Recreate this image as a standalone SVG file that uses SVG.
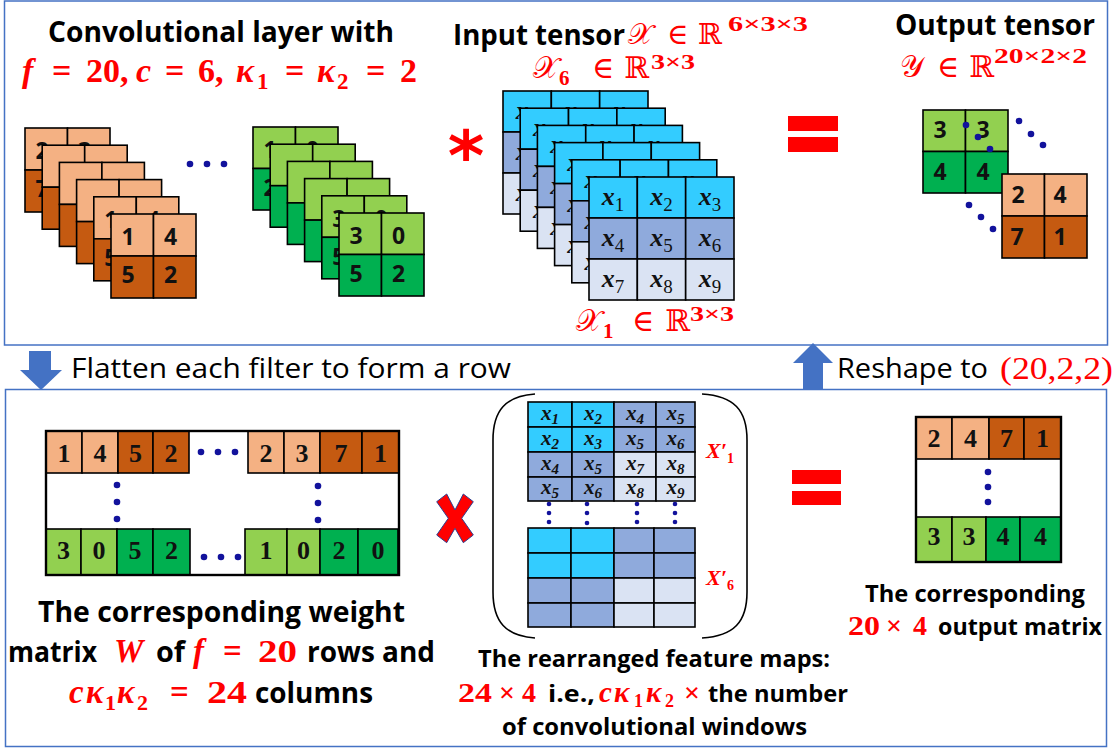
<svg xmlns="http://www.w3.org/2000/svg" width="1116" height="756" viewBox="0 0 1116 756">
<style>
.panel{fill:none;stroke:#4472C4;stroke-width:1.5}
.c{stroke:#000;stroke-width:1.6}
.lo{fill:#F4B183}.do{fill:#C55A11}.lg{fill:#92D050}.dg{fill:#00B050}
.cy{fill:#33CCFF}.mb{fill:#8FAADC}.lb{fill:#DAE3F3}
.bk{font-family:"Open Sans","Noto Sans",sans-serif;font-weight:700;fill:#000}
.rg{font-family:"Open Sans","Noto Sans",sans-serif;font-weight:400;fill:#000}
.m{font-family:"Liberation Serif","DejaVu Serif",serif;font-weight:700;fill:#FF0000}
.sc{font-family:"DejaVu Serif","DejaVu Sans",serif;font-weight:400;fill:#FF0000}
.it{font-style:italic}
.fd{font-family:"Open Sans","Noto Sans",sans-serif;font-weight:700;font-size:23px;fill:#111;text-anchor:middle}
.sd{font-family:"Liberation Serif",serif;font-weight:700;font-size:26px;fill:#111;text-anchor:middle}
.xl{font-family:"Liberation Serif",serif;font-weight:700;font-style:italic;font-size:26px;fill:#111;text-anchor:middle}
.xs{font-family:"Liberation Serif",serif;font-weight:700;font-style:italic;font-size:21px;fill:#111;text-anchor:middle}
.dot{fill:#12129C}
.eq{fill:#FF0000}
.arr{fill:#4472C4}
</style>
<defs>
<g id="fo">
<rect class="c lo" x="0" y="0" width="42.5" height="42"/><rect class="c lo" x="42.5" y="0" width="42.5" height="42"/>
<rect class="c do" x="0" y="42" width="42.5" height="42"/><rect class="c do" x="42.5" y="42" width="42.5" height="42"/>
</g>
<g id="fgr">
<rect class="c lg" x="0" y="0" width="42.5" height="41.5"/><rect class="c lg" x="42.5" y="0" width="42.5" height="41.5"/>
<rect class="c dg" x="0" y="41.5" width="42.5" height="41.5"/><rect class="c dg" x="42.5" y="41.5" width="42.5" height="41.5"/>
</g>
<g id="tl">
<rect class="c cy" x="0" y="0" width="48.33" height="41"/><rect class="c cy" x="48.33" y="0" width="48.33" height="41"/><rect class="c cy" x="96.67" y="0" width="48.33" height="41"/>
<rect class="c mb" x="0" y="41" width="48.33" height="41"/><rect class="c mb" x="48.33" y="41" width="48.33" height="41"/><rect class="c mb" x="96.67" y="41" width="48.33" height="41"/>
<rect class="c lb" x="0" y="82" width="48.33" height="41"/><rect class="c lb" x="48.33" y="82" width="48.33" height="41"/><rect class="c lb" x="96.67" y="82" width="48.33" height="41"/>
<text class="xl" x="24" y="28">x<tspan dy="6" font-size="19" font-weight="400" font-style="normal">1</tspan></text>
<text class="xl" x="72.5" y="28">x<tspan dy="6" font-size="19" font-weight="400" font-style="normal">2</tspan></text>
<text class="xl" x="121" y="28">x<tspan dy="6" font-size="19" font-weight="400" font-style="normal">3</tspan></text>
<text class="xl" x="24" y="69">x<tspan dy="6" font-size="19" font-weight="400" font-style="normal">4</tspan></text>
<text class="xl" x="72.5" y="69">x<tspan dy="6" font-size="19" font-weight="400" font-style="normal">5</tspan></text>
<text class="xl" x="121" y="69">x<tspan dy="6" font-size="19" font-weight="400" font-style="normal">6</tspan></text>
<text class="xl" x="24" y="110">x<tspan dy="6" font-size="19" font-weight="400" font-style="normal">7</tspan></text>
<text class="xl" x="72.5" y="110">x<tspan dy="6" font-size="19" font-weight="400" font-style="normal">8</tspan></text>
<text class="xl" x="121" y="110">x<tspan dy="6" font-size="19" font-weight="400" font-style="normal">9</tspan></text>
</g>
</defs>

<rect class="panel" x="4.5" y="1" width="1103" height="344"/>
<rect class="panel" x="5.5" y="389.5" width="1101" height="357"/>

<g id="arrows">
<polygon class="arr" points="29,351 51,351 51,370 62,370 41,390 20,370 29,370"/>
<polygon class="arr" points="813,343 833,363 823,363 823,390 803,390 803,363 793,363"/>
</g>

<g id="title-left">
<text class="bk" x="48" y="42" font-size="29" textLength="346" lengthAdjust="spacingAndGlyphs">Convolutional layer with</text>
<text class="m" font-size="34"><tspan x="22" y="82" class="it">f</tspan><tspan x="52">=</tspan><tspan x="86">20,</tspan><tspan x="136" class="it">c</tspan><tspan x="165">=</tspan><tspan x="198">6,</tspan><tspan x="236" class="it">κ</tspan><tspan x="257" y="89" font-size="23">1</tspan><tspan x="285" y="82">=</tspan><tspan x="317" class="it">κ</tspan><tspan x="337" y="89" font-size="23">2</tspan><tspan x="366" y="82">=</tspan><tspan x="400">2</tspan></text>
</g>

<g id="filters-orange">
<use href="#fo" x="25" y="128"/>
<text class="fd" x="42" y="159">2</text><text class="fd" x="84.5" y="159">3</text><text class="fd" x="42" y="197">7</text><text class="fd" x="84.5" y="197">1</text>
<use href="#fo" x="42.2" y="145.2"/>
<use href="#fo" x="59.4" y="162.4"/>
<use href="#fo" x="76.6" y="179.6"/>
<use href="#fo" x="93.8" y="196.8"/>
<text class="fd" x="110.8" y="227.8">1</text><text class="fd" x="153.3" y="227.8">4</text><text class="fd" x="110.8" y="265.8">5</text><text class="fd" x="153.3" y="265.8">2</text>
<use href="#fo" x="111" y="214"/>
<text class="fd" x="128" y="245">1</text><text class="fd" x="170.5" y="245">4</text><text class="fd" x="128" y="283">5</text><text class="fd" x="170.5" y="283">2</text>
</g>

<g id="dots-top">
<circle class="dot" cx="190" cy="164" r="3.3"/><circle class="dot" cx="207" cy="164" r="3.3"/><circle class="dot" cx="224" cy="164" r="3.3"/>
</g>

<g id="filters-green">
<use href="#fgr" x="253" y="127"/>
<text class="fd" x="270" y="158">1</text><text class="fd" x="312.5" y="158">0</text><text class="fd" x="270" y="196">2</text><text class="fd" x="312.5" y="196">0</text>
<use href="#fgr" x="270.2" y="144.2"/>
<use href="#fgr" x="287.4" y="161.4"/>
<use href="#fgr" x="304.6" y="178.6"/>
<use href="#fgr" x="321.8" y="195.8"/>
<text class="fd" x="338.8" y="226.8">3</text><text class="fd" x="381.3" y="226.8">0</text><text class="fd" x="338.8" y="264.8">5</text><text class="fd" x="381.3" y="264.8">2</text>
<use href="#fgr" x="339" y="213"/>
<text class="fd" x="356" y="244">3</text><text class="fd" x="398.5" y="244">0</text><text class="fd" x="356" y="282">5</text><text class="fd" x="398.5" y="282">2</text>
</g>

<text id="conv-op" x="466" y="180" font-family="DejaVu Sans, sans-serif" font-weight="700" font-size="70" fill="#FF0000" text-anchor="middle">*</text>

<g id="input-tensor">
<text class="bk" x="453" y="45" font-size="28" textLength="172" lengthAdjust="spacingAndGlyphs">Input tensor</text>
<text class="sc" font-size="29"><tspan x="628" y="44">𝒳</tspan><tspan x="667">∈</tspan><tspan x="698">ℝ</tspan></text>
<text class="m" x="728" y="31" font-size="22" textLength="80" lengthAdjust="spacingAndGlyphs">6×3×3</text>
<text class="sc" font-size="30"><tspan x="533" y="78">𝒳</tspan><tspan x="592">∈</tspan><tspan x="624">ℝ</tspan></text>
<text class="m" x="559" y="85" font-size="21">6</text>
<text class="m" x="651" y="69" font-size="20" textLength="44" lengthAdjust="spacingAndGlyphs">3×3</text>
<use href="#tl" x="503" y="91"/>
<use href="#tl" x="520.2" y="108.2"/>
<use href="#tl" x="537.4" y="125.4"/>
<use href="#tl" x="554.6" y="142.6"/>
<use href="#tl" x="571.8" y="159.8"/>
<use href="#tl" x="589" y="177"/>
<text class="sc" font-size="30"><tspan x="576" y="331">𝒳</tspan><tspan x="632">∈</tspan><tspan x="665">ℝ</tspan></text>
<text class="m" x="603" y="338" font-size="21">1</text>
<text class="m" x="690" y="321" font-size="22" textLength="44" lengthAdjust="spacingAndGlyphs">3×3</text>
</g>

<g id="eq-top">
<rect class="eq" x="788" y="116" width="50" height="15"/>
<rect class="eq" x="788" y="137" width="50" height="15"/>
</g>

<g id="output-tensor">
<text class="bk" x="895" y="35" font-size="28" textLength="200" lengthAdjust="spacingAndGlyphs">Output tensor</text>
<text class="sc" font-size="30"><tspan x="900" y="77">𝒴</tspan><tspan x="937">∈</tspan><tspan x="969">ℝ</tspan></text>
<text class="m" x="994" y="63" font-size="22" textLength="93" lengthAdjust="spacingAndGlyphs">20×2×2</text>
<use href="#fgr" x="923" y="110"/>
<text class="fd" x="940" y="138">3</text><text class="fd" x="983" y="138">3</text><text class="fd" x="940" y="180">4</text><text class="fd" x="983" y="180">4</text>
<use href="#fo" x="1002" y="174"/>
<text class="fd" x="1018" y="203">2</text><text class="fd" x="1060" y="203">4</text><text class="fd" x="1017" y="245">7</text><text class="fd" x="1060" y="245">1</text>
<circle class="dot" cx="966" cy="125" r="3.3"/><circle class="dot" cx="978" cy="137" r="3.3"/><circle class="dot" cx="990" cy="149" r="3.3"/>
<circle class="dot" cx="1019" cy="121" r="3.3"/><circle class="dot" cx="1031" cy="134" r="3.3"/><circle class="dot" cx="1043" cy="145" r="3.3"/>
<circle class="dot" cx="969" cy="205" r="3.3"/><circle class="dot" cx="981" cy="217" r="3.3"/><circle class="dot" cx="993" cy="229" r="3.3"/>
</g>

<g id="step-labels">
<text class="rg" x="71" y="378" font-size="28" textLength="440" lengthAdjust="spacingAndGlyphs">Flatten each filter to form a row</text>
<text class="rg" x="837" y="378" font-size="28" textLength="151" lengthAdjust="spacingAndGlyphs">Reshape to</text>
<text x="1000" y="379" font-family="Liberation Serif, serif" font-size="31" fill="#FF0000" textLength="113" lengthAdjust="spacingAndGlyphs">(20,2,2)</text>
</g>

<g id="weight-matrix">
<rect x="46" y="431" width="353" height="144" fill="#FFFFFF"/>
<rect class="c lo" x="46" y="431" width="36" height="42"/><rect class="c lo" x="82" y="431" width="36" height="42"/><rect class="c do" x="118" y="431" width="35" height="42"/><rect class="c do" x="153" y="431" width="36" height="42"/>
<rect class="c lo" x="248" y="431" width="36" height="42"/><rect class="c lo" x="284" y="431" width="36" height="42"/><rect class="c do" x="320" y="431" width="42" height="42"/><rect class="c do" x="362" y="431" width="37" height="42"/>
<rect class="c lg" x="46" y="529" width="35" height="46"/><rect class="c lg" x="81" y="529" width="36" height="46"/><rect class="c dg" x="117" y="529" width="36" height="46"/><rect class="c dg" x="153" y="529" width="37" height="46"/>
<rect class="c lg" x="245" y="529" width="42" height="46"/><rect class="c lg" x="287" y="529" width="33" height="46"/><rect class="c dg" x="320" y="529" width="38" height="46"/><rect class="c dg" x="358" y="529" width="40" height="46"/>
<rect x="46" y="431" width="353" height="144" fill="none" stroke="#000" stroke-width="2.4"/>
<text class="sd" x="64" y="462">1</text><text class="sd" x="100" y="462">4</text><text class="sd" x="135.5" y="462">5</text><text class="sd" x="171" y="462">2</text>
<text class="sd" x="266" y="462">2</text><text class="sd" x="302" y="462">3</text><text class="sd" x="341" y="462">7</text><text class="sd" x="380.5" y="462">1</text>
<text class="sd" x="63.5" y="559">3</text><text class="sd" x="99" y="559">0</text><text class="sd" x="135" y="559">5</text><text class="sd" x="171.5" y="559">2</text>
<text class="sd" x="266" y="559">1</text><text class="sd" x="303.5" y="559">0</text><text class="sd" x="339" y="559">2</text><text class="sd" x="378" y="559">0</text>
<circle class="dot" cx="201" cy="452" r="3.3"/><circle class="dot" cx="218" cy="452" r="3.3"/><circle class="dot" cx="235" cy="452" r="3.3"/>
<circle class="dot" cx="204" cy="557" r="3.3"/><circle class="dot" cx="221" cy="557" r="3.3"/><circle class="dot" cx="238" cy="557" r="3.3"/>
<circle class="dot" cx="117" cy="485" r="3.3"/><circle class="dot" cx="117" cy="502" r="3.3"/><circle class="dot" cx="117" cy="519" r="3.3"/>
<circle class="dot" cx="318" cy="486" r="3.3"/><circle class="dot" cx="318" cy="503" r="3.3"/><circle class="dot" cx="318" cy="520" r="3.3"/>
</g>

<polygon id="times" points="436.7,501.7 446.7,494 455,510 463.3,494 473.3,501.7 461.7,518.3 473.3,535 463.3,542.7 455,528.3 446.7,542.7 436.7,535 448.3,518.3" fill="#FF0000" stroke="#2F3F8F" stroke-width="1"/>

<g id="feature-maps">
<path d="M535,394 C506,396 493,410 493,440 L493,592 C493,622 506,636 535,638" fill="none" stroke="#000" stroke-width="1.6"/>
<path d="M702,394 C734,396 747,410 747,440 L747,592 C747,622 734,636 702,638" fill="none" stroke="#000" stroke-width="1.6"/>
<rect class="c cy" x="528" y="402" width="44" height="25"/><rect class="c cy" x="572" y="402" width="42" height="25"/><rect class="c mb" x="614" y="402" width="42" height="25"/><rect class="c mb" x="656" y="402" width="39" height="25"/>
<rect class="c cy" x="528" y="427" width="44" height="25"/><rect class="c cy" x="572" y="427" width="42" height="25"/><rect class="c mb" x="614" y="427" width="42" height="25"/><rect class="c mb" x="656" y="427" width="39" height="25"/>
<rect class="c mb" x="528" y="452" width="44" height="25"/><rect class="c mb" x="572" y="452" width="42" height="25"/><rect class="c lb" x="614" y="452" width="42" height="25"/><rect class="c lb" x="656" y="452" width="39" height="25"/>
<rect class="c mb" x="528" y="477" width="44" height="24"/><rect class="c mb" x="572" y="477" width="42" height="24"/><rect class="c lb" x="614" y="477" width="42" height="24"/><rect class="c lb" x="656" y="477" width="39" height="24"/>
<text class="xs" x="550" y="420">x<tspan dy="4" font-size="15">1</tspan></text><text class="xs" x="593" y="420">x<tspan dy="4" font-size="15">2</tspan></text><text class="xs" x="635" y="420">x<tspan dy="4" font-size="15">4</tspan></text><text class="xs" x="675.5" y="420">x<tspan dy="4" font-size="15">5</tspan></text>
<text class="xs" x="550" y="445">x<tspan dy="4" font-size="15">2</tspan></text><text class="xs" x="593" y="445">x<tspan dy="4" font-size="15">3</tspan></text><text class="xs" x="635" y="445">x<tspan dy="4" font-size="15">5</tspan></text><text class="xs" x="675.5" y="445">x<tspan dy="4" font-size="15">6</tspan></text>
<text class="xs" x="550" y="470">x<tspan dy="4" font-size="15">4</tspan></text><text class="xs" x="593" y="470">x<tspan dy="4" font-size="15">5</tspan></text><text class="xs" x="635" y="470">x<tspan dy="4" font-size="15">7</tspan></text><text class="xs" x="675.5" y="470">x<tspan dy="4" font-size="15">8</tspan></text>
<text class="xs" x="550" y="494">x<tspan dy="4" font-size="15">5</tspan></text><text class="xs" x="593" y="494">x<tspan dy="4" font-size="15">6</tspan></text><text class="xs" x="635" y="494">x<tspan dy="4" font-size="15">8</tspan></text><text class="xs" x="675.5" y="494">x<tspan dy="4" font-size="15">9</tspan></text>
<circle class="dot" cx="549" cy="504" r="2.3"/><circle class="dot" cx="549" cy="513" r="2.3"/><circle class="dot" cx="549" cy="522" r="2.3"/>
<circle class="dot" cx="587" cy="504" r="2.3"/><circle class="dot" cx="587" cy="513" r="2.3"/><circle class="dot" cx="587" cy="523" r="2.3"/>
<circle class="dot" cx="637" cy="504" r="2.3"/><circle class="dot" cx="637" cy="513" r="2.3"/><circle class="dot" cx="637" cy="522" r="2.3"/>
<circle class="dot" cx="675" cy="504" r="2.3"/><circle class="dot" cx="675" cy="513" r="2.3"/><circle class="dot" cx="675" cy="522" r="2.3"/>
<rect class="c cy" x="528" y="528" width="43" height="25"/><rect class="c cy" x="571" y="528" width="43" height="25"/><rect class="c mb" x="614" y="528" width="40" height="25"/><rect class="c mb" x="654" y="528" width="41" height="25"/>
<rect class="c cy" x="528" y="553" width="43" height="25"/><rect class="c cy" x="571" y="553" width="43" height="25"/><rect class="c mb" x="614" y="553" width="40" height="25"/><rect class="c mb" x="654" y="553" width="41" height="25"/>
<rect class="c mb" x="528" y="578" width="43" height="25"/><rect class="c mb" x="571" y="578" width="43" height="25"/><rect class="c lb" x="614" y="578" width="40" height="25"/><rect class="c lb" x="654" y="578" width="41" height="25"/>
<rect class="c mb" x="528" y="603" width="43" height="24"/><rect class="c mb" x="571" y="603" width="43" height="24"/><rect class="c lb" x="614" y="603" width="40" height="24"/><rect class="c lb" x="654" y="603" width="41" height="24"/>
<text class="m it" x="706" y="458" font-size="22">X′<tspan dy="5" font-size="14" font-style="normal">1</tspan></text>
<text class="m it" x="706" y="585" font-size="22">X′<tspan dy="5" font-size="14" font-style="normal">6</tspan></text>
</g>

<g id="eq-bottom">
<rect class="eq" x="792" y="470" width="49" height="14"/>
<rect class="eq" x="792" y="491" width="49" height="14"/>
</g>

<g id="output-matrix">
<rect x="916" y="417" width="145" height="145" fill="#FFFFFF"/>
<rect class="c lo" x="916" y="417" width="36" height="42"/><rect class="c lo" x="952" y="417" width="37" height="42"/><rect class="c do" x="989" y="417" width="35" height="42"/><rect class="c do" x="1024" y="417" width="37" height="42"/>
<rect class="c lg" x="916" y="517" width="36" height="45"/><rect class="c lg" x="952" y="517" width="34" height="45"/><rect class="c dg" x="986" y="517" width="34" height="45"/><rect class="c dg" x="1020" y="517" width="41" height="45"/>
<rect x="916" y="417" width="145" height="145" fill="none" stroke="#000" stroke-width="2.4"/>
<text class="sd" x="934" y="447">2</text><text class="sd" x="970.5" y="447">4</text><text class="sd" x="1006.5" y="447">7</text><text class="sd" x="1042.5" y="447">1</text>
<text class="sd" x="934" y="545">3</text><text class="sd" x="969" y="545">3</text><text class="sd" x="1003" y="545">4</text><text class="sd" x="1040.5" y="545">4</text>
<circle class="dot" cx="988" cy="472" r="3.3"/><circle class="dot" cx="988" cy="487" r="3.3"/><circle class="dot" cx="988" cy="502" r="3.3"/>
</g>

<g id="caption-weight">
<text class="bk" x="38" y="622" font-size="28" textLength="367" lengthAdjust="spacingAndGlyphs">The corresponding weight</text>
<text class="bk" x="8" y="662" font-size="28" textLength="89" lengthAdjust="spacingAndGlyphs">matrix</text>
<text class="m it" x="114" y="662" font-size="33">W</text>
<text class="bk" x="156" y="662" font-size="28" textLength="29" lengthAdjust="spacingAndGlyphs">of</text>
<text class="m" font-size="33"><tspan x="193" y="662" class="it">f</tspan><tspan x="223">=</tspan></text>
<text class="m" x="258" y="662" font-size="32" textLength="39" lengthAdjust="spacingAndGlyphs">20</text>
<text class="bk" x="307" y="662" font-size="28" textLength="128" lengthAdjust="spacingAndGlyphs">rows and</text>
<text class="m" font-size="33"><tspan x="69" y="703" class="it">c</tspan><tspan x="86" class="it">κ</tspan><tspan x="105" y="710" font-size="22">1</tspan><tspan x="117" y="703" class="it">κ</tspan><tspan x="137" y="710" font-size="22">2</tspan><tspan x="170" y="703">=</tspan></text>
<text class="m" x="207" y="703" font-size="32" textLength="40" lengthAdjust="spacingAndGlyphs">24</text>
<text class="bk" x="255" y="703" font-size="28" textLength="118" lengthAdjust="spacingAndGlyphs">columns</text>
</g>

<g id="caption-features">
<text class="bk" x="478" y="667" font-size="24" textLength="352" lengthAdjust="spacingAndGlyphs">The rearranged feature maps:</text>
<text class="m" x="458" y="702" font-size="28" textLength="34" lengthAdjust="spacingAndGlyphs">24</text>
<text class="m" font-size="28"><tspan x="499" y="702">×</tspan><tspan x="522">4</tspan></text>
<text class="bk" x="548" y="702" font-size="24" textLength="47" lengthAdjust="spacingAndGlyphs">i.e.,</text>
<text class="m" font-size="29"><tspan x="599" y="702" class="it">c</tspan><tspan x="614" class="it">κ</tspan><tspan x="634" y="707" font-size="18">1</tspan><tspan x="646" y="702" class="it">κ</tspan><tspan x="665" y="707" font-size="18">2</tspan></text>
<text class="m" x="684" y="702" font-size="28">×</text>
<text class="bk" x="708" y="702" font-size="24" textLength="140" lengthAdjust="spacingAndGlyphs">the number</text>
<text class="bk" x="502" y="735" font-size="24" textLength="305" lengthAdjust="spacingAndGlyphs">of convolutional windows</text>
</g>

<g id="caption-output">
<text class="bk" x="865" y="602" font-size="24" textLength="220" lengthAdjust="spacingAndGlyphs">The corresponding</text>
<text class="m" x="848" y="635" font-size="28" textLength="32" lengthAdjust="spacingAndGlyphs">20</text>
<text class="m" font-size="28"><tspan x="886" y="635">×</tspan><tspan x="913">4</tspan></text>
<text class="bk" x="938" y="635" font-size="24" textLength="164" lengthAdjust="spacingAndGlyphs">output matrix</text>
</g>
</svg>
